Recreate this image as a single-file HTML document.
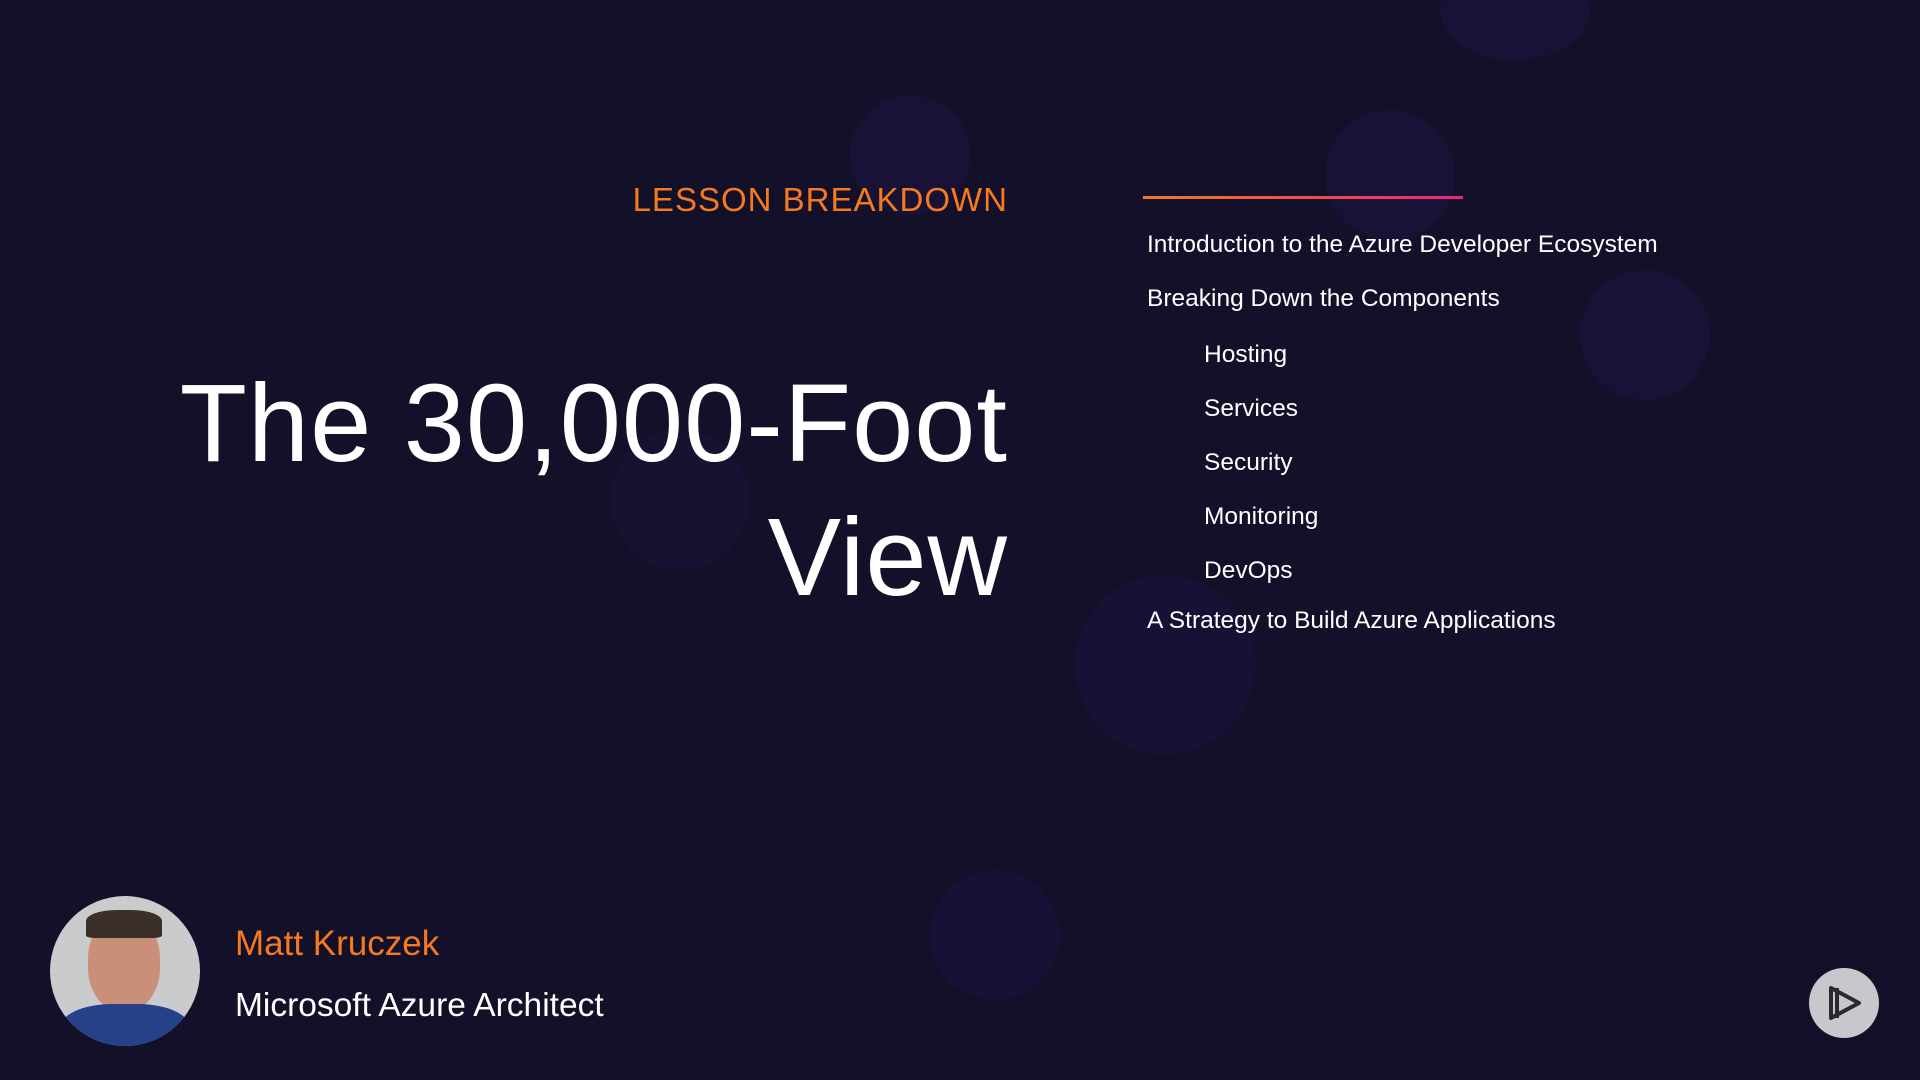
<!DOCTYPE html>
<html><head><meta charset="utf-8"><style>
html,body{margin:0;padding:0}
body{width:1920px;height:1080px;overflow:hidden;background:#13102a;position:relative;font-family:"Liberation Sans",sans-serif}
.blob{position:absolute;border-radius:50%;background:#1c1645;opacity:.45}
.t{position:absolute;white-space:nowrap}
.ag{position:absolute;color:#fff;font-size:24.5px;white-space:nowrap;transform:translateY(-50%)}
</style></head><body>
<div class="blob" style="left:1440px;top:-40px;width:150px;height:100px"></div>
<div class="blob" style="left:850px;top:95px;width:120px;height:120px"></div>
<div class="blob" style="left:1325px;top:110px;width:130px;height:130px"></div>
<div class="blob" style="left:1580px;top:270px;width:130px;height:130px"></div>
<div class="blob" style="left:610px;top:430px;width:140px;height:140px;opacity:.3"></div>
<div class="blob" style="left:1075px;top:575px;width:180px;height:180px;opacity:.4"></div>
<div class="blob" style="left:930px;top:870px;width:130px;height:130px;opacity:.4"></div>

<div class="t" style="right:912px;top:181px;color:#f5791f;font-size:33px;letter-spacing:1px">LESSON BREAKDOWN</div>
<div style="position:absolute;left:1143px;top:196px;width:320px;height:3px;background:linear-gradient(90deg,#f5791f,#e8267a)"></div>

<div class="t" style="right:912px;top:354px;color:#fff;font-size:110px;line-height:140px;letter-spacing:1px">The 30,000-Foot</div>
<div class="t" style="right:912px;top:488px;color:#fff;font-size:110px;line-height:140px;letter-spacing:1px">View</div>

<div class="ag" style="left:1147px;top:245px">Introduction to the Azure Developer Ecosystem</div>
<div class="ag" style="left:1147px;top:299px">Breaking Down the Components</div>
<div class="ag" style="left:1204px;top:355px">Hosting</div>
<div class="ag" style="left:1204px;top:409px">Services</div>
<div class="ag" style="left:1204px;top:463px">Security</div>
<div class="ag" style="left:1204px;top:517px">Monitoring</div>
<div class="ag" style="left:1204px;top:571px">DevOps</div>
<div class="ag" style="left:1147px;top:621px">A Strategy to Build Azure Applications</div>

<div style="position:absolute;left:50px;top:896px;width:150px;height:150px;border-radius:50%;overflow:hidden;background:#c9cbcc">
 <div style="position:absolute;left:38px;top:20px;width:72px;height:95px;border-radius:45%;background:#c98f78"></div>
 <div style="position:absolute;left:36px;top:14px;width:76px;height:28px;border-radius:40% 40% 10% 10%;background:#3a3029"></div>
 <div style="position:absolute;left:10px;top:108px;width:130px;height:60px;border-radius:40% 40% 0 0;background:#26418a"></div>
</div>
<div class="t" style="left:235px;top:924px;color:#f5791f;font-size:35px">Matt Kruczek</div>
<div class="t" style="left:235px;top:987px;color:#fff;font-size:33.5px">Microsoft Azure Architect</div>

<div style="position:absolute;left:1809px;top:968px;width:70px;height:70px;border-radius:50%;background:#c7c7cc">
 <svg width="70" height="70" viewBox="0 0 70 70"><path d="M22 20 L50 35 L22 50 Z M28 20 L28 50" fill="none" stroke="#2a2a35" stroke-width="4" stroke-linejoin="round"/></svg>
</div>
</body></html>
